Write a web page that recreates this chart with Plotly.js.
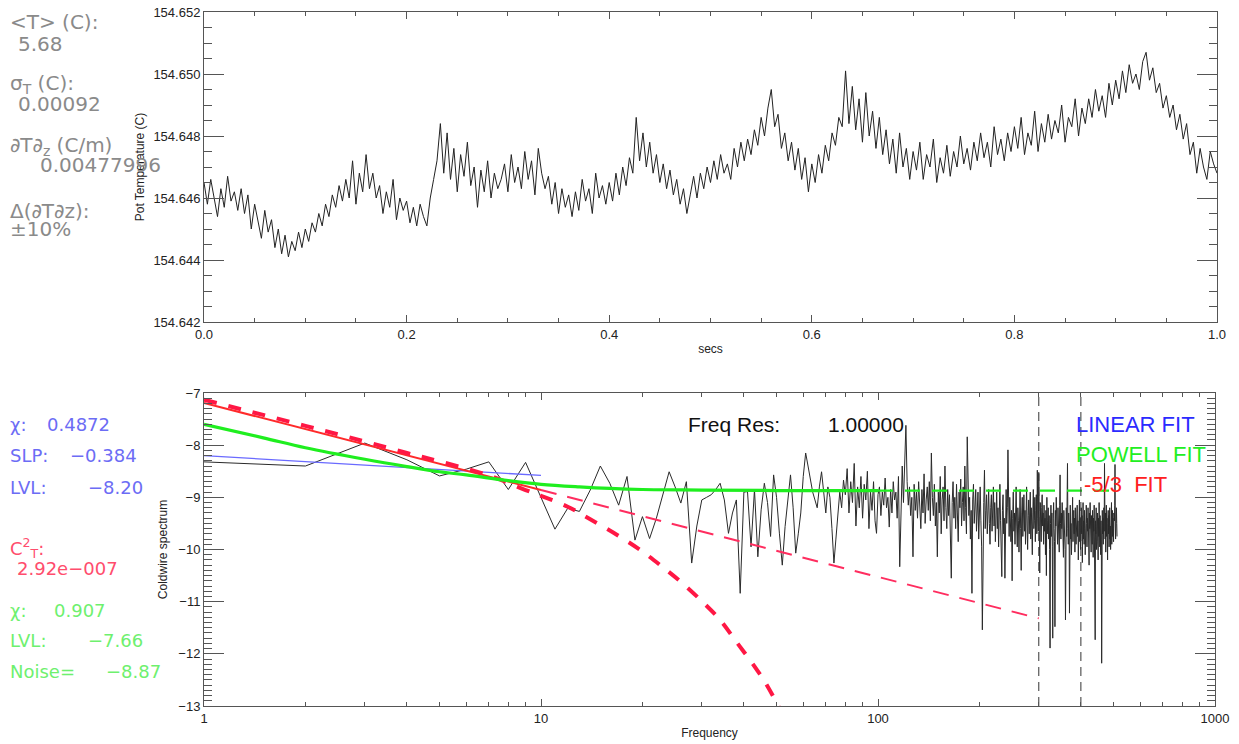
<!DOCTYPE html>
<html>
<head>
<meta charset="utf-8">
<script src="https://cdn.plot.ly/plotly-3.0.1.min.js"></script>
<style>html,body{margin:0;padding:0;background:#fff;}#chart{width:1239px;height:744px;}</style>
</head>
<body>
<div id="chart"></div>
<script>
// ---------- DATA ----------
// Top panel: potential temperature time series (1 s record)
const sampleInterval = 1 / 300;   // seconds between samples
const potTemp = [
154.6465,154.6458,154.6466,154.6460,154.6454,154.6463,154.6457,154.6467,154.6459,154.6462,
154.6456,154.6463,154.6455,154.6461,154.6450,154.6458,154.6452,154.6447,154.6456,154.6449,
154.6453,154.6444,154.6450,154.6442,154.6448,154.6441,154.6446,154.6443,154.6449,154.6444,
154.6450,154.6446,154.6452,154.6449,154.6455,154.6451,154.6458,154.6454,154.6461,154.6457,
154.6464,154.6459,154.6466,154.6460,154.6472,154.6458,154.6468,154.6462,154.6474,154.6463,
154.6468,154.6460,154.6464,154.6455,154.6462,154.6457,154.6466,154.6453,154.6460,154.6456,
154.6459,154.6452,154.6457,154.6451,154.6458,154.6454,154.6451,154.6460,154.6466,154.6472,
154.6484,154.6468,154.6481,154.6466,154.6476,154.6462,154.6474,154.6467,154.6478,154.6464,
154.6470,154.6457,154.6469,154.6462,154.6472,154.6460,154.6468,154.6463,154.6466,154.6471,
154.6462,154.6474,154.6465,154.6470,154.6463,154.6475,154.6466,154.6472,154.6461,154.6476,
154.6468,154.6463,154.6467,154.6458,154.6465,154.6455,154.6463,154.6457,154.6461,154.6454,
154.6462,154.6456,154.6466,154.6459,154.6463,154.6455,154.6468,154.6460,154.6464,154.6458,
154.6465,154.6459,154.6468,154.6461,154.6470,154.6464,154.6473,154.6468,154.6486,154.6472,
154.6481,154.6470,154.6478,154.6468,154.6474,154.6465,154.6471,154.6463,154.6469,154.6461,
154.6466,154.6458,154.6463,154.6455,154.6461,154.6467,154.6460,154.6468,154.6463,154.6470,
154.6465,154.6472,154.6466,154.6474,154.6468,154.6471,154.6466,154.6476,154.6470,154.6478,
154.6472,154.6479,154.6474,154.6482,154.6477,154.6486,154.6480,154.6489,154.6495,154.6483,
154.6487,154.6476,154.6481,154.6472,154.6478,154.6469,154.6476,154.6466,154.6473,154.6462,
154.6471,154.6465,154.6474,154.6468,154.6477,154.6472,154.6481,154.6477,154.6486,154.6483,
154.6501,154.6484,154.6496,154.6482,154.6492,154.6478,154.6494,154.6480,154.6488,154.6476,
154.6486,154.6474,154.6482,154.6471,154.6479,154.6468,154.6481,154.6470,154.6476,154.6466,
154.6475,154.6469,154.6478,154.6466,154.6474,154.6470,154.6479,154.6465,154.6473,154.6468,
154.6477,154.6467,154.6475,154.6470,154.6480,154.6471,154.6476,154.6469,154.6478,154.6472,
154.6481,154.6473,154.6478,154.6470,154.6483,154.6474,154.6479,154.6472,154.6481,154.6475,
154.6483,154.6476,154.6486,154.6474,154.6481,154.6477,154.6488,154.6475,154.6484,154.6478,
154.6487,154.6479,154.6485,154.6481,154.6490,154.6478,154.6486,154.6483,154.6492,154.6480,
154.6489,154.6484,154.6492,154.6486,154.6495,154.6488,154.6493,154.6486,154.6497,154.6490,
154.6498,154.6492,154.6501,154.6494,154.6503,154.6497,154.6500,154.6495,154.6504,154.6507,
154.6498,154.6502,154.6494,154.6497,154.6489,154.6493,154.6486,154.6490,154.6482,154.6487,
154.6479,154.6484,154.6474,154.6478,154.6468,154.6476,154.6470,154.6466,154.6475,154.6471,154.6468
];

// Bottom panel: coldwire spectrum (log10), frequency resolution 1 Hz starting at 1 Hz
const freqStart = 1;
const freqRes = 1;
const spectrum = [
-8.32,-8.40,-7.96,-8.28,-8.59,-8.46,-8.32,-8.85,-8.33,-8.99,
-9.61,-9.21,-9.27,-8.86,-8.40,-8.73,-9.15,-8.60,-9.82,-9.37,
-9.79,-9.40,-8.95,-8.51,-8.80,-9.11,-8.70,-10.26,-9.55,-9.05,
-9.00,-8.95,-8.85,-8.73,-9.05,-9.69,-9.30,-9.05,-10.84,-8.90,
-8.89,-9.95,-8.85,-10.14,-9.24,-8.73,-9.10,-9.75,-8.57,-9.00,
-9.70,-10.30,-9.56,-9.00,-8.57,-9.20,-10.07,-9.70,-9.30,-8.60,
-8.15,-8.40,-8.70,-8.90,-9.05,-9.20,-8.80,-8.51,-8.90,-9.30,
-8.80,-9.00,-9.60,-10.26,-9.80,-9.37,-8.90,-9.20,-8.67,-8.95,
-8.45,-9.30,-8.70,-9.10,-8.35,-9.55,-8.80,-9.20,-8.60,-9.40,
-8.75,-9.05,-8.50,-9.60,-8.90,-9.25,-8.70,-9.45,-9.69,-8.95,
-8.80,-9.35,-8.90,-9.15,-8.63,-9.20,-9.00,-9.57,-8.85,-9.30,
-8.70,-9.05,-8.90,-9.40,-8.60,-10.33,-8.95,-8.40,-9.10,-8.30,
-7.62,-8.70,-9.15,-8.80,-9.35,-9.00,-10.14,-8.75,-9.25,-8.90,
-9.40,-8.70,-9.10,-9.60,-8.85,-9.30,-8.55,-9.50,-9.05,-8.80,
-9.25,-8.70,-9.45,-8.15,-9.00,-9.35,-8.75,-9.55,-9.10,-10.14,
-8.90,-9.30,-8.60,-9.70,-9.05,-8.80,-9.45,-8.40,-9.20,-9.60,
-8.85,-9.35,-8.95,-9.75,-10.55,-9.10,-8.70,-9.40,-9.00,-9.60,
-8.75,-9.30,-9.85,-8.90,-9.20,-8.65,-9.55,-9.10,-8.80,-9.45,
-8.40,-9.20,-9.70,-7.84,-8.90,-9.35,-9.00,-9.80,-9.25,-10.84,
-9.05,-8.75,-9.50,-9.20,-8.85,-9.65,-9.30,-8.90,-9.80,-9.15,
-8.80,-9.45,-9.95,-11.54,-9.40,-9.10,-8.48,-9.60,-9.25,-8.95,
-9.70,-9.15,-8.85,-9.50,-9.90,-9.20,-8.95,-9.65,-9.35,-8.80,
-9.55,-9.10,-9.85,-9.30,-8.90,-9.60,-9.20,-9.95,-9.05,-8.75,
-9.45,-9.80,-10.52,-9.25,-8.95,-9.70,-9.40,-10.55,-9.10,-8.85,
-9.50,-9.20,-8.09,-9.35,-9.75,-9.00,-9.55,-9.85,-9.25,-10.60,
-9.40,-8.90,-9.65,-9.30,-9.90,-9.05,-8.80,-9.55,-9.95,-9.20,
-9.45,-10.05,-9.15,-8.85,-9.60,-10.40,-9.30,-9.00,-9.75,-9.45,
-8.95,-9.65,-9.25,-9.90,-9.10,-8.80,-9.55,-10.00,-9.35,-9.05,
-9.70,-9.40,-8.90,-9.80,-9.20,-9.55,-10.10,-9.30,-8.85,-9.60,
-9.45,-9.00,-9.85,-9.25,-8.95,-9.70,-8.48,-9.40,-9.65,-8.54,
-9.35,-10.45,-9.10,-9.60,-9.85,-9.20,-8.95,-9.55,-9.30,-9.90,
-9.15,-9.65,-9.40,-10.10,-9.25,-10.50,-9.00,-9.70,-9.45,-9.20,
-9.80,-9.35,-10.00,-11.89,-9.50,-9.15,-9.75,-9.30,-9.95,-11.70,
-9.40,-9.10,-9.60,-9.85,-11.48,-9.25,-9.55,-9.00,-9.70,-9.40,
-9.90,-9.20,-9.65,-9.35,-10.05,-9.15,-8.57,-9.50,-9.80,-9.30,
-9.60,-9.10,-9.85,-9.45,-10.15,-9.25,-9.70,-9.40,-10.00,-11.35,
-9.50,-9.20,-9.75,-9.35,-8.35,-9.60,-9.90,-9.30,-9.55,-11.22,
-9.40,-9.15,-9.80,-9.50,-10.10,-9.30,-9.65,-9.00,-9.85,-9.45,
-9.25,-9.70,-9.40,-10.05,-9.20,-9.55,-9.90,-9.35,-9.60,-9.15,
-9.75,-9.45,-10.20,-9.30,-9.60,-9.05,-9.85,-9.40,-10.00,-9.50,
-9.20,-9.70,-9.35,-10.25,-9.55,-9.10,-9.80,-9.45,-9.90,-9.25,
-9.60,-10.10,-9.35,-9.75,-9.15,-9.50,-9.95,-9.40,-9.65,-9.20,
-9.85,-9.45,-10.30,-9.30,-9.60,-9.10,-9.75,-9.50,-10.05,-9.35,
-9.55,-9.90,-9.25,-9.70,-10.15,-9.40,-9.65,-9.15,-9.80,-11.64,
-11.73,-9.45,-9.70,-9.20,-10.00,-9.50,-9.85,-9.30,-9.60,-10.20,
-9.40,-9.75,-9.10,-9.55,-9.95,-9.35,-9.65,-10.10,-9.45,-9.80,
-12.18,-9.50,-9.25,-9.70,-9.40,-9.90,-9.55,-9.20,-9.65,-8.35,
-9.45,-9.80,-9.30,-10.05,-9.60,-9.15,-9.75,-9.40,-9.85,-10.20,
-9.50,-9.25,-9.70,-9.35,-9.95,-9.45,-9.20,-9.80,-9.55,-10.00,
-9.35,-9.65,-9.10,-9.90,-9.50,-9.25,-9.75,-9.40,-9.60,-9.85,
-9.30,-9.70,-9.45,-9.15,-8.37,-9.55,-9.80,-9.35,-9.65,-9.20,
-9.50,-9.75
];

// Fits
const linFitFreq = [1, 10];
const linFitVal  = [-8.20, -8.58];
const k53FitFreq = [1, 10];
const k53FitVal  = [-7.19, -8.86];
const k53ExtFreq = [10, 300];
const k53ExtVal  = [-8.86, -11.32];
const cutoffFreq = [1, 2, 3, 4, 5, 7, 9, 10, 12, 14, 17, 20, 23, 26, 30, 34, 38, 43, 47, 52];
const cutoffVal  = [-7.13, -7.63, -7.93, -8.15, -8.31, -8.58, -8.86, -8.97, -9.18, -9.42,
                    -9.74, -10.04, -10.34, -10.62, -10.99, -11.35, -11.77, -12.24, -12.62, -13.15];
const powellFreq = [1, 1.5, 2, 3, 4, 5, 6, 8, 10, 13, 16, 20, 30, 50, 100];
const powellVal  = [-7.60, -7.86, -8.05, -8.27, -8.41, -8.51, -8.57, -8.68, -8.75, -8.80,
                    -8.83, -8.85, -8.86, -8.87, -8.87];
const noiseFreq  = [100, 500];
const noiseVal   = [-8.87, -8.87];
const bandFreqs  = [300, 400];
const bandSpan   = [-13, -7];

// Tick labels
const tempTicks = [154.642, 154.644, 154.646, 154.648, 154.650, 154.652];
const secTicks  = [0, 0.2, 0.4, 0.6, 0.8, 1.0];

// ---------- FIGURE ----------
const W = 1239, H = 744;
const px = v => v / W;
const py = v => 1 - v / H;

const traces = [
  {x0: 0, dx: sampleInterval, y: potTemp, type: 'scatter', mode: 'lines',
   line: {color: '#222', width: 1}, xaxis: 'x', yaxis: 'y', hoverinfo: 'skip'},
  {x0: freqStart, dx: freqRes, y: spectrum, type: 'scatter', mode: 'lines',
   line: {color: '#2a2a2a', width: 1}, xaxis: 'x2', yaxis: 'y2'},
  {x: linFitFreq, y: linFitVal, mode: 'lines', line: {color: '#6a6aff', width: 1.3}, xaxis: 'x2', yaxis: 'y2'},
  {x: k53ExtFreq, y: k53ExtVal, mode: 'lines', line: {color: '#ff2d5f', width: 2, dash: '16px,11px'}, xaxis: 'x2', yaxis: 'y2'},
  {x: k53FitFreq, y: k53FitVal, mode: 'lines', line: {color: '#ff2a2a', width: 2}, xaxis: 'x2', yaxis: 'y2'},
  {x: cutoffFreq, y: cutoffVal, mode: 'lines', line: {color: '#ff1744', width: 4, dash: '13px,12px', shape: 'spline'}, xaxis: 'x2', yaxis: 'y2'},
  {x: powellFreq, y: powellVal, mode: 'lines', line: {color: '#1fee1f', width: 3.2, shape: 'spline'}, xaxis: 'x2', yaxis: 'y2'},
  {x: noiseFreq, y: noiseVal, mode: 'lines', line: {color: '#1fee1f', width: 2.2, dash: '15px,12px'}, xaxis: 'x2', yaxis: 'y2'}
];
bandFreqs.forEach(f => traces.push({
  x: [f, f], y: bandSpan, mode: 'lines', line: {color: '#333', width: 1, dash: '9px,6px'}, xaxis: 'x2', yaxis: 'y2'
}));

const tickFont = {family: 'Liberation Sans, Arial, sans-serif', size: 13, color: '#222'};
const titleFont = {family: 'Liberation Sans, Arial, sans-serif', size: 12, color: '#222'};
const axCommon = {showline: true, linecolor: '#555', linewidth: 1, mirror: 'allticks',
  ticks: 'inside', tickcolor: '#555', showgrid: false, zeroline: false, tickfont: tickFont};

const G = '#8a8a8a', B = '#6c6cf5', R = '#ff4d6d', GR = '#6ef06e';
const lf = {family: 'DejaVu Sans, sans-serif', size: 20};
const lf2 = {family: 'DejaVu Sans, sans-serif', size: 18};
function ann(text, x, y, color, font, extra) {
  return Object.assign({text: text, x: px(x), y: py(y), xref: 'paper', yref: 'paper',
    xanchor: 'left', yanchor: 'middle', showarrow: false,
    font: Object.assign({}, font, {color: color})}, extra || {});
}

const annotations = [
  ann('&lt;T&gt; (C):', 8, 22, G, lf),
  ann('5.68', 16, 44, G, lf),
  ann('σ<sub>T</sub> (C):', 8, 84, G, lf),
  ann('0.00092', 16, 104, G, lf),
  ann('∂T∂<sub>z</sub> (C/m)', 8, 146, G, lf),
  ann('0.00477996', 38, 165, G, lf),
  ann('Δ(∂T∂z):', 8, 211, G, lf),
  ann('±10%', 8, 229, G, lf),

  ann('χ:', 8, 424, B, lf2), ann('0.4872', 45, 424, B, lf2),
  ann('SLP:', 8, 455, B, lf2), ann('−0.384', 68, 455, B, lf2),
  ann('LVL:', 8, 487, B, lf2), ann('−8.20', 86, 487, B, lf2),
  ann('C<sup>2</sup><sub>T</sub>:', 8, 548, R, lf2),
  ann('2.92e−007', 15, 568, R, lf2),
  ann('χ:', 8, 610, GR, lf2), ann('0.907', 52, 610, GR, lf2),
  ann('LVL:', 8, 640, GR, lf2), ann('−7.66', 86, 640, GR, lf2),
  ann('Noise=', 8, 671, GR, lf2), ann('−8.87', 104, 671, GR, lf2),

  ann('Freq Res:', 686, 424, '#111', {family: 'Liberation Sans, Arial, sans-serif', size: 21}),
  ann('1.00000', 826, 424, '#111', {family: 'Liberation Sans, Arial, sans-serif', size: 21}),
  ann('LINEAR FIT', 1074, 424, '#2b2bff', {family: 'Liberation Sans, Arial, sans-serif', size: 22}),
  ann('POWELL FIT', 1074, 454, '#22ee22', {family: 'Liberation Sans, Arial, sans-serif', size: 22}),
  ann('-5/3&nbsp;&nbsp;FIT', 1082, 484, '#ff2020', {family: 'Liberation Sans, Arial, sans-serif', size: 22})
];

const layout = {
  width: W, height: H,
  margin: {l: 0, r: 0, t: 0, b: 0},
  paper_bgcolor: '#fff', plot_bgcolor: '#fff',
  showlegend: false,
  xaxis: Object.assign({}, axCommon, {
    domain: [px(204), px(1217)], anchor: 'y', range: [0, 1],
    tickvals: secTicks, tickformat: '.1f', ticklen: 7,
    minor: {dtick: 0.05, ticklen: 4, ticks: 'inside', tickcolor: '#555'},
    title: {text: 'secs', font: titleFont, standoff: 4}
  }),
  yaxis: Object.assign({}, axCommon, {
    domain: [py(322), py(12)], anchor: 'x', range: [154.642, 154.652],
    tickvals: tempTicks, tickformat: '.3f', ticklen: 20,
    minor: {dtick: 0.0005, ticklen: 8, ticks: 'inside', tickcolor: '#555'},
    title: {text: 'Pot Temperature (C)', font: titleFont, standoff: 6}
  }),
  xaxis2: Object.assign({}, axCommon, {
    domain: [px(204), px(1215)], anchor: 'y2', type: 'log', range: [0, 3],
    tickmode: 'linear', tick0: 0, dtick: 1, exponentformat: 'none', ticklen: 7,
    minor: {dtick: 'D1', ticklen: 4, ticks: 'inside', tickcolor: '#555'},
    title: {text: 'Frequency', font: titleFont, standoff: 4}
  }),
  yaxis2: Object.assign({}, axCommon, {
    domain: [py(706), py(393)], anchor: 'x2', range: [-13, -7],
    tickmode: 'linear', tick0: -13, dtick: 1, ticklen: 20,
    minor: {dtick: 0.1, ticklen: 8, ticks: 'inside', tickcolor: '#555'},
    title: {text: 'Coldwire spectrum', font: titleFont, standoff: 8}
  }),
  annotations: annotations
};

Plotly.newPlot('chart', traces, layout, {staticPlot: true, displayModeBar: false});
</script>
</body>
</html>
